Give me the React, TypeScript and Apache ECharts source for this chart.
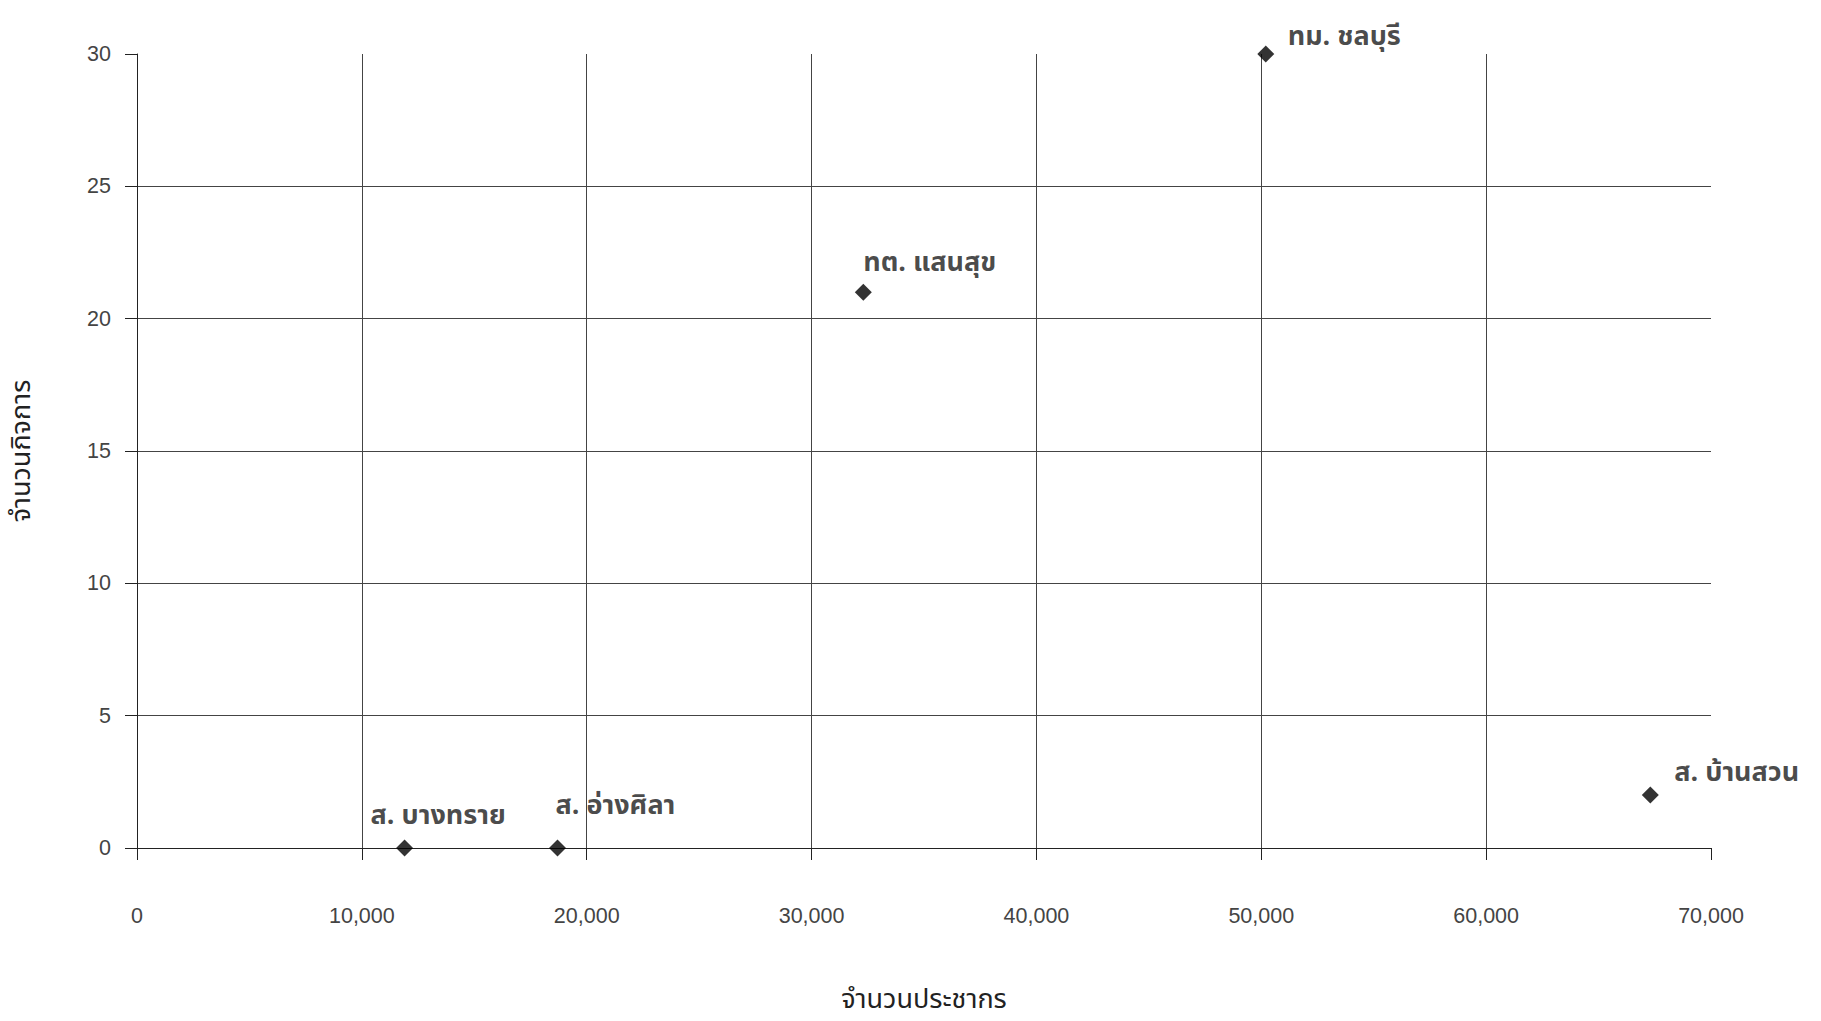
import React, { useEffect, useRef } from "react";
import * as echarts from "echarts";

const placeNames = ["ทม. ชลบุรี", "ทต. แสนสุข", "ส. บางทราย", "ส. อ่างศิลา", "ส. บ้านสวน"];
const population = [50200, 32300, 11900, 18700, 67300];
const businesses = [30, 21, 0, 0, 2];
const xTitle = "จำนวนประชากร";
const yTitle = "จำนวนกิจการ";

// label offsets (style only)
const labelOffsets: [number, number][] = [
  [22, 9],
  [0, -3],
  [-34, -6],
  [-2, -16],
  [24, 4],
];

export default function App() {
  const ref = useRef<HTMLDivElement>(null);
  useEffect(() => {
    if (!ref.current) return;
    const chart = echarts.init(ref.current, undefined, { renderer: "svg" });
    const data = population.map((x, i) => ({
      value: [x, businesses[i]],
      name: placeNames[i],
      label: {
        show: true,
        position: "top" as const,
        align: "left" as const,
        offset: labelOffsets[i],
        formatter: placeNames[i],
        fontSize: 27,
        fontWeight: "bold" as const,
        color: "#1a1a1a",
        fontFamily: "'Noto Sans Thai', 'Noto Sans', sans-serif",
      },
    }));
    chart.setOption({
      animation: false,
      backgroundColor: "#fff",
      grid: { left: 128, right: 110, top: 54, bottom: 173, containLabel: false },
      xAxis: {
        type: "value",
        min: 0,
        max: 70000,
        interval: 10000,
        name: xTitle,
        nameLocation: "middle",
        nameGap: 138,
        nameTextStyle: { fontSize: 27, fontWeight: "normal", color: "#222", fontFamily: "'Noto Sans Thai', sans-serif" },
        axisLine: { show: true, lineStyle: { color: "#222", width: 1 } },
        axisTick: { show: true, length: 12, lineStyle: { color: "#222" } },
        axisLabel: {
          margin: 57,
          fontSize: 21.5,
          color: "#444",
          fontFamily: "'Liberation Sans', Arial, sans-serif",
          formatter: (v: number) => v.toLocaleString("en-US"),
        },
        splitLine: { show: true, showMinLine: false, showMaxLine: false, lineStyle: { color: "#444", width: 1 } },
      },
      yAxis: {
        type: "value",
        min: 0,
        max: 30,
        interval: 5,
        name: yTitle,
        nameLocation: "middle",
        nameGap: 102,
        nameRotate: 90,
        nameTextStyle: { fontSize: 27, fontWeight: "normal", color: "#222", fontFamily: "'Noto Sans Thai', sans-serif" },
        axisLine: { show: true, lineStyle: { color: "#222", width: 1 } },
        axisTick: { show: true, length: 12, lineStyle: { color: "#222" } },
        axisLabel: {
          margin: 26,
          fontSize: 21.5,
          color: "#444",
          fontFamily: "'Liberation Sans', Arial, sans-serif",
        },
        splitLine: { show: true, showMinLine: false, showMaxLine: false, lineStyle: { color: "#444", width: 1 } },
      },
      series: [
        {
          type: "scatter",
          symbol: "diamond",
          symbolSize: 17,
          itemStyle: { color: "#000" },
          data,
        },
      ],
    });
    return () => chart.dispose();
  }, []);
  return (
    <div
      ref={ref}
      style={{ position: "absolute", left: 0, top: 0, width: 1821, height: 1021 }}
    />
  );
}
